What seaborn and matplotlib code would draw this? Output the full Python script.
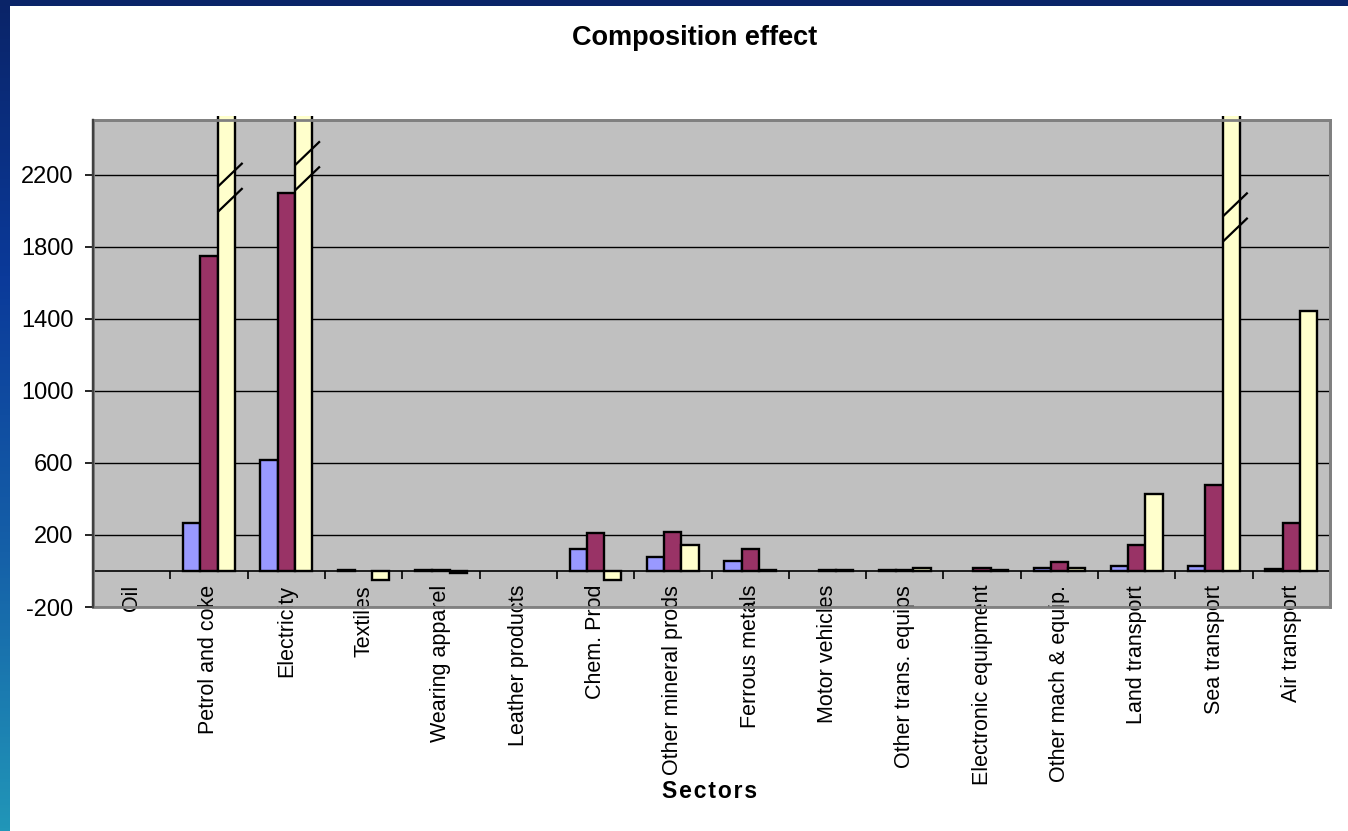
import numpy as np
import pandas as pd
import matplotlib
matplotlib.use("Agg")
import matplotlib.pyplot as plt
from matplotlib.patches import Rectangle
from matplotlib.transforms import Bbox, TransformedBbox
from matplotlib.colors import LinearSegmentedColormap
import seaborn as sns

# ---- data -------------------------------------------------------------
sectors = [
    "Oil", "Petrol and coke", "Electricity", "Textiles", "Wearing apparel",
    "Leather products", "Chem. Prod", "Other mineral prods", "Ferrous metals",
    "Motor vehicles", "Other trans. equips", "Electronic equipment",
    "Other mach & equip.", "Land transport", "Sea transport", "Air transport",
]
series_names = ["Series 1", "Series 2", "Series 3"]
series_1 = [np.nan, 267, 617, 4, 4, np.nan, 122, 78, 57, np.nan, 4, np.nan, 15, 25, 25, 12]
series_2 = [np.nan, 1750, 2100, np.nan, 4, np.nan, 210, 217, 122, 4, 4, 17, 50, 145, 475, 267]
series_3 = [np.nan, 4800, 5600, -48, -10, np.nan, -48, 145, 4, 4, 17, 4, 15, 430, 4200, 1445]
# sectors whose third-series bar runs off the scale, with the level of the break marks
broken_sectors = ["Petrol and coke", "Electricity", "Sea transport"]
break_levels = [2130, 2250, 1965]

y_ticks = [-200, 200, 600, 1000, 1400, 1800, 2200]
y_limits = (-200, 2505)

colors = ["#9999FF", "#993366", "#FFFFCC"]

df = pd.DataFrame({
    "sector": [s for s in sectors for _ in range(3)],
    "series": series_names * len(sectors),
    "value": [v for trio in zip(series_1, series_2, series_3) for v in trio],
}).dropna()

# ---- figure -----------------------------------------------------------
plt.rcParams["font.family"] = ["Liberation Sans", "DejaVu Sans"]
plt.rcParams["axes.unicode_minus"] = False

W, H, DPI = 1348, 831, 100
fig = plt.figure(figsize=(W / DPI, H / DPI), dpi=DPI, facecolor="white")

# slide border: dark top band and gradient left band
top_ax = fig.add_axes([0, 1 - 6 / H, 1, 6 / H])
top_ax.set_axis_off()
top_ax.add_patch(Rectangle((0, 0), 1, 1, transform=top_ax.transAxes, color="#0A2468"))
left_ax = fig.add_axes([0, 0, 10 / W, 1])
left_ax.set_axis_off()
grad = np.linspace(0, 1, 256).reshape(-1, 1)
edge_cmap = LinearSegmentedColormap.from_list(
    "edge", ["#0A2468", "#0B3A9A", "#1560A8", "#2196B8"])
left_ax.imshow(grad, aspect="auto", cmap=edge_cmap, extent=[0, 1, 1, 0])
left_ax.set_xlim(0, 1)
left_ax.set_ylim(1, 0)

# plot area
x0, x1, y_top, y_bot = 93, 1330, 120, 607
ax = fig.add_axes([x0 / W, 1 - y_bot / H, (x1 - x0) / W, (y_bot - y_top) / H])
ax.set_facecolor("#C0C0C0")

sns.barplot(
    data=df, x="sector", y="value", hue="series",
    order=sectors, hue_order=series_names, palette=colors,
    width=0.67, edgecolor="black", linewidth=1.7, saturation=1,
    errorbar=None, legend=False, ax=ax, zorder=3,
)

ax.set_ylim(*y_limits)
ax.set_xlim(-0.5, len(sectors) - 0.5)

# let the tall bars poke just past the top of the frame
clip = TransformedBbox(Bbox([[0, -0.01], [1, 1.009]]), ax.transAxes)
for p in ax.patches:
    p.set_clip_box(clip)

# gridlines
ax.set_yticks(y_ticks)
ax.yaxis.grid(True, color="black", linewidth=1.0, zorder=1)
ax.set_axisbelow(True)
ax.tick_params(axis="y", direction="out", length=6, width=1.2, color="black",
               labelsize=17, pad=8)

# category axis drawn at zero
ax.spines["bottom"].set_position(("data", 0))
ax.spines["bottom"].set_color("black")
ax.spines["bottom"].set_linewidth(1.2)
ax.spines["bottom"].set_zorder(4)
ax.set_xticks(np.arange(len(sectors) + 1) - 0.5)
ax.set_xticklabels([])
ax.set_xticks(np.arange(len(sectors)), minor=True)
ax.set_xticklabels(sectors, minor=True, rotation=90, fontsize=15.5, va="top", ha="center")
ax.tick_params(axis="x", which="major", direction="out", length=6, width=1.2, color="black")
ax.tick_params(axis="x", which="minor", length=0, pad=10)

for side in ["top", "right"]:
    ax.spines[side].set_color("#808080")
    ax.spines[side].set_linewidth(2)
ax.spines["left"].set_color("#404040")
ax.spines["left"].set_linewidth(1.6)
ax.add_patch(Rectangle((0, 0), 1, 1, transform=ax.transAxes, fill=False,
                       edgecolor="#808080", linewidth=2, clip_on=False, zorder=5))
ax.plot([0, 0], [0, 1], transform=ax.transAxes, color="#404040", lw=1.6,
        clip_on=False, zorder=6)

ax.set_xlabel("")
ax.set_ylabel("")

# break marks across the off-scale bars
n_series = len(series_names)
bar_w = 0.67 / n_series
px_x = len(sectors) / (x1 - x0)                        # data units per pixel (x)
px_y = (y_limits[1] - y_limits[0]) / (y_bot - y_top)   # data units per pixel (y)
for name, level in zip(broken_sectors, break_levels):
    i = sectors.index(name)
    cx = i + bar_w  # centre of third bar
    for off in (+70, -70):
        xs = [cx - 0.5 * bar_w, cx - 0.5 * bar_w + 25 * px_x]
        ys = [level + off - 12 * px_y, level + off + 12 * px_y]
        ax.plot(xs, ys, color="black", lw=1.6, zorder=6, solid_capstyle="butt")

fig.text(695 / W, 1 - 38 / H, "Composition effect", ha="center", va="center",
         fontsize=19.5, fontweight="bold")
fig.text(710 / W, 1 - 792 / H, "\u200a".join("Sectors"), ha="center",
         va="center", fontsize=16.5, fontweight="bold")

fig.savefig("out.png", dpi=DPI, facecolor="white")
